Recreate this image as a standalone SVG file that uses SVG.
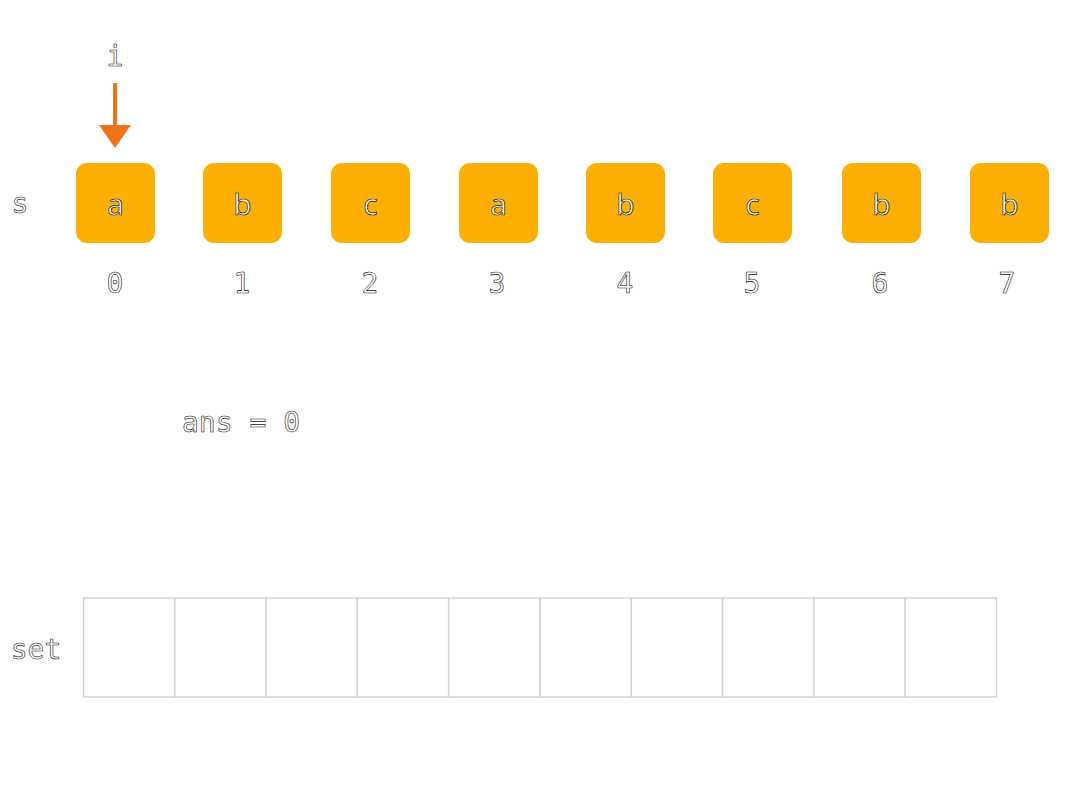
<svg xmlns="http://www.w3.org/2000/svg" width="1080" height="810" viewBox="0 0 1080 810">
<style>
.t{fill:#fff;stroke:#111;stroke-width:0.6;font-family:"DejaVu Sans Mono",monospace;font-size:28px;text-anchor:middle}
.l{fill:#fff;stroke:#111;stroke-width:0.7;font-family:"Open Sans","Noto Sans",sans-serif;font-size:30px;text-anchor:middle}
.box{fill:#FDAE02}
.cell{fill:#fff;stroke:#d4d4d4;stroke-width:1.5}
</style>
<rect width="1080" height="810" fill="#fff"/>
<text class="t" x="20" y="213">s</text>
<text class="t" x="36" y="659">set</text>
<g id="pointer">
<text class="t" x="115" y="66">i</text>
</g>
<g id="connectors">
<line x1="115" y1="83" x2="115" y2="128" stroke="#F07417" stroke-width="4"/>
<polygon points="99,125 131,125 115,148" fill="#F07417"/>
</g>
<g id="n0"><rect class="box" x="76" y="163" width="79" height="80" rx="11"/><text class="l" x="115.5" y="215">a</text><text class="t" x="115" y="293">0</text></g>
<g id="n1"><rect class="box" x="203" y="163" width="79" height="80" rx="11"/><text class="l" x="242.5" y="215">b</text><text class="t" x="242" y="293">1</text></g>
<g id="n2"><rect class="box" x="331" y="163" width="79" height="80" rx="11"/><text class="l" x="370.5" y="215">c</text><text class="t" x="370" y="293">2</text></g>
<g id="n3"><rect class="box" x="459" y="163" width="79" height="80" rx="11"/><text class="l" x="498.5" y="215">a</text><text class="t" x="497" y="293">3</text></g>
<g id="n4"><rect class="box" x="586" y="163" width="79" height="80" rx="11"/><text class="l" x="625.5" y="215">b</text><text class="t" x="625" y="293">4</text></g>
<g id="n5"><rect class="box" x="713" y="163" width="79" height="80" rx="11"/><text class="l" x="752.5" y="215">c</text><text class="t" x="752" y="293">5</text></g>
<g id="n6"><rect class="box" x="842" y="163" width="79" height="80" rx="11"/><text class="l" x="881.5" y="215">b</text><text class="t" x="880" y="293">6</text></g>
<g id="n7"><rect class="box" x="970" y="163" width="79" height="80" rx="11"/><text class="l" x="1009.5" y="215">b</text><text class="t" x="1007" y="293">7</text></g>
<g id="ans"><text class="t" x="241" y="432">ans = 0</text></g>
<g id="set">
<rect class="cell" x="83.5" y="598" width="91.3" height="99"/>
<rect class="cell" x="174.8" y="598" width="91.3" height="99"/>
<rect class="cell" x="266.1" y="598" width="91.3" height="99"/>
<rect class="cell" x="357.4" y="598" width="91.3" height="99"/>
<rect class="cell" x="448.7" y="598" width="91.3" height="99"/>
<rect class="cell" x="540" y="598" width="91.3" height="99"/>
<rect class="cell" x="631.3" y="598" width="91.3" height="99"/>
<rect class="cell" x="722.6" y="598" width="91.3" height="99"/>
<rect class="cell" x="813.9" y="598" width="91.3" height="99"/>
<rect class="cell" x="905.2" y="598" width="91.3" height="99"/>
</g>
</svg>
